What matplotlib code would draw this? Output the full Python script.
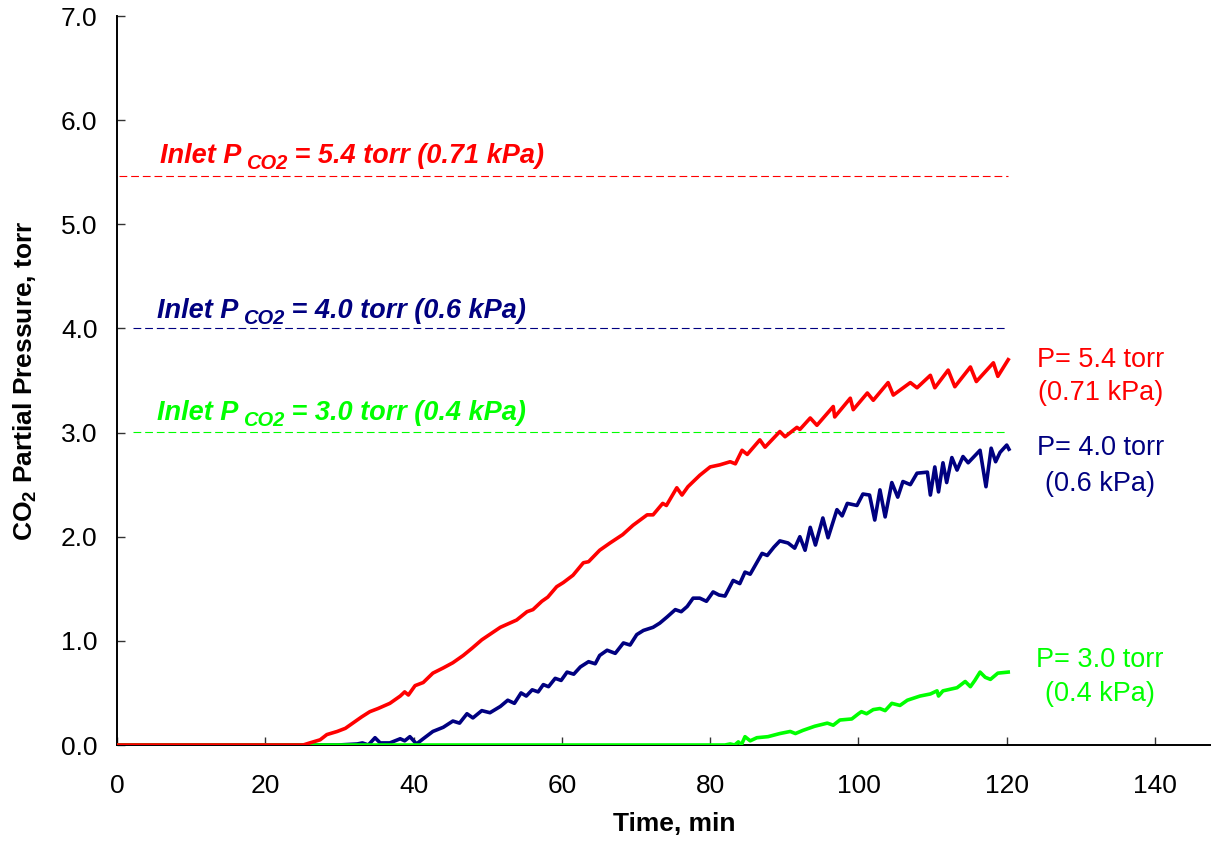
#!/usr/bin/env python3
"""
Pressao parcial de CO2 na saida vs tempo, para tres pressoes de entrada
"""

import matplotlib
matplotlib.use('Agg')
import matplotlib.pyplot as plt
from matplotlib.ticker import FormatStrFormatter

plt.rcParams['font.family'] = 'Liberation Sans'
plt.rcParams['mathtext.fontset'] = 'custom'
plt.rcParams['mathtext.rm'] = 'Liberation Sans:bold'
plt.rcParams['mathtext.it'] = 'Liberation Sans:bold:italic'
plt.rcParams['mathtext.bf'] = 'Liberation Sans:bold'

# ---- dados (tempo em min, pressao em torr) ----
t_54 = [0, 25.1, 26.0, 27.4, 28.3, 29.7, 30.8, 31.8, 33.0, 34.1, 35.2, 36.8, 38.2, 38.8,
        39.3, 40.2, 41.3, 42.6, 44.0, 45.3, 46.7, 47.9, 49.2, 51.7, 53.9, 55.3, 56.1,
        57.3, 58.1, 59.3, 60.2, 61.5, 62.9, 63.6, 65.1, 66.5, 68.2, 69.6, 71.5, 72.3,
        73.6, 74.1, 75.5, 76.2, 77.0, 78.6, 80.0, 81.3, 82.7, 83.4, 84.3, 85.0, 86.7,
        87.4, 89.4, 90.1, 91.7, 92.1, 93.5, 94.4, 96.6, 96.8, 98.9, 99.3, 101.2, 102.0,
        104.0, 104.7, 107.0, 107.9, 109.7, 110.3, 112.1, 113.0, 115.1, 115.9, 118.2,
        118.8, 120.2]
p_54 = [0, 0, 0.02, 0.05, 0.10, 0.13, 0.16, 0.21, 0.27, 0.32, 0.35, 0.40, 0.47, 0.51,
        0.48, 0.57, 0.60, 0.69, 0.74, 0.79, 0.86, 0.93, 1.01, 1.13, 1.20, 1.28, 1.30,
        1.38, 1.42, 1.52, 1.56, 1.63, 1.75, 1.76, 1.87, 1.94, 2.02, 2.11, 2.21, 2.21,
        2.32, 2.30, 2.47, 2.40, 2.48, 2.59, 2.67, 2.69, 2.72, 2.70, 2.83, 2.79, 2.93,
        2.86, 3.01, 2.96, 3.05, 3.03, 3.14, 3.07, 3.25, 3.15, 3.33, 3.22, 3.38, 3.31,
        3.48, 3.36, 3.48, 3.43, 3.55, 3.43, 3.60, 3.44, 3.63, 3.49, 3.67, 3.54, 3.70]

t_40 = [0, 29.8, 32.4, 33.1, 33.9, 34.8, 35.5, 36.8, 38.2, 38.8, 39.5, 40.4, 41.3, 42.6,
        44.0, 45.3, 46.2, 47.2, 48.0, 49.2, 50.3, 51.7, 52.7, 53.6, 54.5, 55.2, 56.0,
        56.8, 57.5, 58.2, 59.1, 59.9, 60.7, 61.6, 62.5, 63.6, 64.5, 65.1, 66.1, 67.2,
        68.3, 69.2, 70.1, 71.0, 72.3, 73.2, 74.2, 75.3, 76.1, 76.9, 77.7, 78.6, 79.5,
        80.4, 81.2, 82.0, 83.1, 84.0, 84.7, 85.4, 86.2, 87.0, 87.7, 88.6, 89.4,
        90.5, 91.4, 92.1, 92.8, 93.5, 94.2, 95.2, 95.9, 97.1, 97.8, 98.5, 99.8, 100.6,
        101.5, 102.2, 102.9, 103.6, 104.5, 105.3, 106.0, 107.0, 107.9, 109.3, 109.7,
        110.3, 110.8, 111.4, 111.9, 112.6, 113.3, 114.1, 114.8, 116.4, 117.2, 117.9,
        118.5, 119.1, 120.0, 120.3]
p_40 = [0, 0, 0.01, 0.02, 0, 0.07, 0.02, 0.02, 0.06, 0.04, 0.08, 0.01, 0.06, 0.13,
        0.17, 0.23, 0.21, 0.30, 0.26, 0.33, 0.31, 0.37, 0.43, 0.40, 0.50, 0.47, 0.53,
        0.51, 0.58, 0.56, 0.64, 0.62, 0.70, 0.68, 0.75, 0.80, 0.78, 0.86, 0.91, 0.88,
        0.98, 0.96, 1.06, 1.10, 1.13, 1.17, 1.23, 1.30, 1.28, 1.33, 1.41, 1.41, 1.38,
        1.47, 1.44, 1.43, 1.58, 1.55, 1.66, 1.64, 1.74, 1.84, 1.82, 1.90, 1.96,
        1.94, 1.89, 2.00, 1.87, 2.09, 1.92, 2.18, 1.99, 2.26, 2.20, 2.32, 2.30, 2.41,
        2.40, 2.16, 2.45, 2.19, 2.52, 2.38, 2.53, 2.50, 2.61, 2.62, 2.40, 2.67, 2.43,
        2.71, 2.52, 2.76, 2.64, 2.77, 2.71, 2.83, 2.48, 2.85, 2.72, 2.81, 2.88, 2.84]

t_30 = [0, 82.0, 82.7, 83.3, 83.8, 84.2, 84.7, 85.4, 86.3, 87.8, 89.4, 90.8, 91.5, 92.5,
        94.1, 95.8, 96.6, 97.5, 99.1, 100.0, 100.4, 101.1, 102.0, 102.9, 103.6, 104.5,
        105.6, 106.6, 108.3, 109.7, 110.6, 110.8, 111.4, 113.3, 114.4, 115.1, 115.7,
        116.4, 117.1, 117.8, 118.8, 120.2]
p_30 = [0, 0, 0.01, 0, 0.03, 0, 0.08, 0.04, 0.07, 0.08, 0.11, 0.13, 0.11, 0.14,
        0.18, 0.21, 0.19, 0.24, 0.25, 0.30, 0.32, 0.30, 0.34, 0.35, 0.33, 0.40,
        0.38, 0.43, 0.47, 0.49, 0.52, 0.47, 0.52, 0.55, 0.61, 0.56, 0.62,
        0.70, 0.65, 0.63, 0.69, 0.70]

# pressao de entrada (linhas tracejadas)
inlet_54 = ([0.3, 120.2], [5.46, 5.46])
inlet_40 = ([2.2, 120.2], [4.0, 4.0])
inlet_30 = ([2.2, 120.2], [3.01, 3.01])

vermelho = '#FF0000'
azul = '#000080'
verde = '#00FF00'

fig = plt.figure(figsize=(12.11, 8.47), dpi=100)
ax = fig.add_axes([117 / 1211, 102 / 847, 1094 / 1211, 729 / 847])

# curvas (ordem: azul, verde, vermelho por cima)
ax.plot(t_40, p_40, color=azul, lw=2.6, solid_joinstyle='round', zorder=3)
ax.plot(t_30, p_30, color=verde, lw=2.6, solid_joinstyle='round', zorder=4)
ax.plot(t_54, p_54, color=vermelho, lw=2.6, solid_joinstyle='round', zorder=5)

for (xs, ys), cor in [(inlet_54, vermelho), (inlet_40, azul), (inlet_30, verde)]:
    ax.plot(xs, ys, color=cor, lw=0.8, dashes=(7, 3.5), zorder=2)

# textos "Inlet P_CO2 = ..."
def texto_inlet(x, y, resto, cor):
    kw = dict(color=cor, fontweight='bold', fontstyle='italic')
    t1 = ax.text(x, y, 'Inlet P', fontsize=19.5, va='baseline', ha='left', **kw)
    t2 = ax.annotate('CO2', xy=(1, 0), xycoords=t1, xytext=(3, 0),
                     textcoords='offset points', fontsize=14.5, va='baseline',
                     ha='left', **kw)
    ax.annotate(resto, xy=(1, 0), xycoords=(t2, t1), xytext=(0, 0),
                textcoords='offset points', fontsize=19.5, va='bottom',
                ha='left', **kw)

texto_inlet(5.8, 5.59, ' = 5.4 torr (0.71 kPa)', vermelho)
texto_inlet(5.4, 4.10, ' = 4.0 torr (0.6 kPa)', azul)
texto_inlet(5.4, 3.12, ' = 3.0 torr (0.4 kPa)', verde)

# rotulos a direita
for y, s, cor in [(3.70, 'P= 5.4 torr', vermelho), (3.38, '(0.71 kPa)', vermelho),
                  (2.85, 'P= 4.0 torr', azul), (2.51, '(0.6 kPa)', azul),
                  (0.82, 'P= 3.0 torr', verde), (0.49, '(0.4 kPa)', verde)]:
    ax.text(132.6, y, s, color=cor, fontsize=19.5, ha='center', va='center')

ax.set_xlim(0, 147.55)
ax.set_ylim(0, 7.0)
ax.set_xticks(range(0, 141, 20))
ax.set_yticks([0, 1, 2, 3, 4, 5, 6, 7])
ax.yaxis.set_major_formatter(FormatStrFormatter('%.1f'))

ax.spines['top'].set_visible(False)
ax.spines['right'].set_visible(False)
ax.spines['left'].set_linewidth(1.4)
ax.spines['bottom'].set_linewidth(1.4)
ax.tick_params(axis='both', direction='in', length=6, width=1, colors='#333333',
               labelcolor='black', labelsize=19)
ax.tick_params(axis='y', pad=14)
ax.tick_params(axis='x', pad=21)

ax.set_xlabel('Time, min', fontsize=19, fontweight='bold')
ax.set_ylabel(r'CO$_\mathbf{2}$ Partial Pressure, torr', fontsize=19, fontweight='bold')
ax.xaxis.set_label_coords(0.509, -0.092)
ax.yaxis.set_label_coords(-0.071, 0.5)

fig.savefig('out.png', dpi=100)
plt.close(fig)
